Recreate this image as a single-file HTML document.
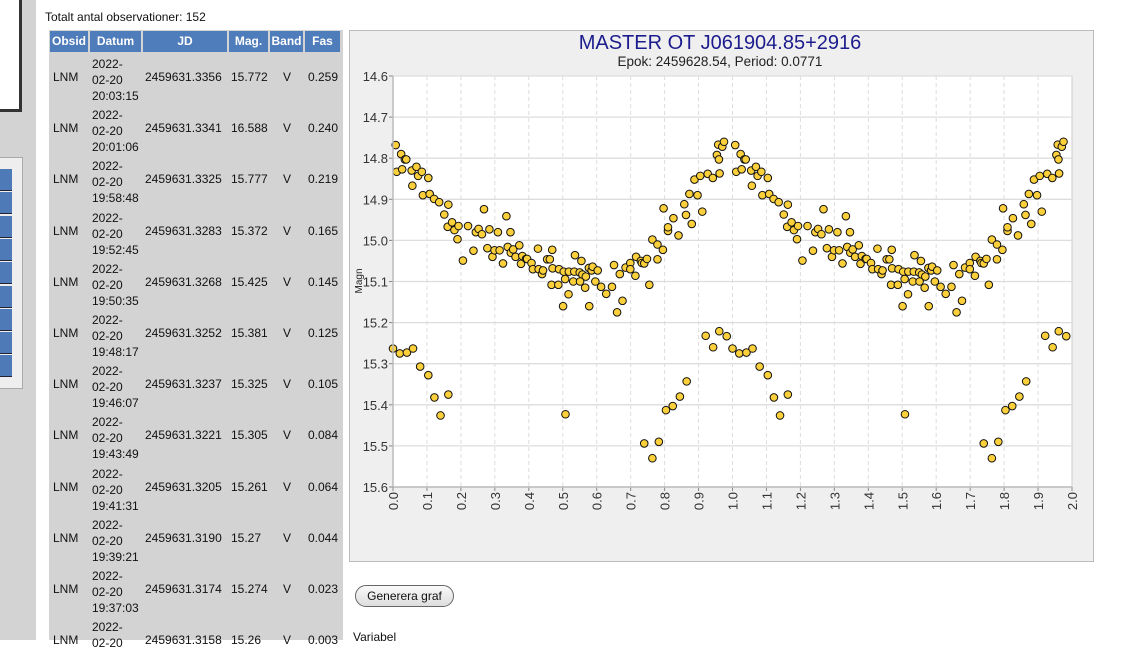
<!DOCTYPE html>
<html><head><meta charset="utf-8">
<style>
body{margin:0;width:1136px;height:640px;overflow:hidden;background:#fff;font-family:"Liberation Sans",sans-serif;position:relative}
.abs{position:absolute}
#tbl{position:absolute;left:49px;top:30px;width:294px;height:610px;background:#d3d3d3}
.th{position:absolute;top:1px;height:21px;background:#4f7cba;color:#fff;font-weight:bold;font-size:12px;line-height:21px;text-align:center}
.row{position:absolute;left:0;width:294px;height:51px;font-size:12px;color:#111}
.row span{position:absolute}
</style></head><body>
<div class="abs" style="left:0;top:0;width:36px;height:640px;background:#d3d3d3"></div>
<div class="abs" style="left:0;top:0;width:19px;height:109px;background:#fff;border-right:3px solid #333;border-bottom:3px solid #333"></div>
<div class="abs" style="left:0;top:157px;width:22px;height:230px;background:#eee;border:1px solid #aaa;border-left:none">
<div id="navbtns"></div></div>
<div class="abs" style="left:45px;top:10px;font-size:12px;color:#111">Totalt antal observationer: 152</div>
<div id="tbl">
<div class="th" style="left:1px;width:38px">Obsid</div>
<div class="th" style="left:41px;width:51px">Datum</div>
<div class="th" style="left:94px;width:84px">JD</div>
<div class="th" style="left:180px;width:39px">Mag.</div>
<div class="th" style="left:221px;width:33px">Band</div>
<div class="th" style="left:256px;width:35px">Fas</div>
<div id="rows"></div>
</div>
<div class="abs" style="left:349px;top:30px;width:743px;height:530px;background:#efefef;border:1px solid #bbb"></div>
<svg class="abs" style="left:0;top:0" width="1136" height="640">
<text x="720" y="49" text-anchor="middle" font-size="20" fill="#1c1c8e" font-family="Liberation Sans">MASTER OT J061904.85+2916</text>
<text x="720" y="66" text-anchor="middle" font-size="13.5" fill="#222" font-family="Liberation Sans">Epok: 2459628.54, Period: 0.0771</text>
<rect x="393" y="76" width="679" height="411" fill="#fff" stroke="#ccc"/>
<g id="grid"></g><g id="pts"></g><g id="axes"></g>
<text transform="translate(362,281) rotate(-90)" text-anchor="middle" font-size="10" fill="#222" font-family="Liberation Sans">Magn</text>
</svg>
<div class="abs" style="left:355px;top:585px;width:97px;height:20px;border:1px solid #666;border-radius:11px;background:linear-gradient(#fafafa,#ddd);font-size:12px;line-height:20px;text-align:center;color:#111">Generera graf</div>
<div class="abs" style="left:353px;top:630px;font-size:12px;color:#111">Variabel</div>
<script>
const rowTimes=["20:03:15","20:01:06","19:58:48","19:52:45","19:50:35","19:48:17","19:46:07","19:43:49","19:41:31","19:39:21","19:37:03",""];
const rowJD=["2459631.3356","2459631.3341","2459631.3325","2459631.3283","2459631.3268","2459631.3252","2459631.3237","2459631.3221","2459631.3205","2459631.3190","2459631.3174","2459631.3158"];
const rowMag=["15.772","16.588","15.777","15.372","15.425","15.381","15.325","15.305","15.261","15.27","15.274","15.26"];
const rowFas=["0.259","0.240","0.219","0.165","0.145","0.125","0.105","0.084","0.064","0.044","0.023","0.003"];
const phase=[0.008,0.011,0.024,0.027,0.035,0.039,0.055,0.057,0.069,0.074,0.085,0.088,0.104,0.108,0.121,0.136,0.151,0.161,0.163,0.174,0.181,0.19,0.193,0.206,0.221,0.237,0.244,0.252,0.262,0.268,0.278,0.284,0.293,0.299,0.314,0.309,0.324,0.334,0.338,0.346,0.347,0.354,0.361,0.372,0.377,0.381,0.392,0.395,0.408,0.412,0.427,0.429,0.439,0.442,0.454,0.462,0.469,0.47,0.489,0.503,0.507,0.518,0.534,0.536,0.55,0.558,0.555,0.568,0.577,0.585,0.588,0.603,0.651,0.668,0.685,0.699,0.699,0.714,0.716,0.73,0.733,0.74,0.748,0.764,0.779,0.779,0.795,0.797,0.81,0.81,0.826,0.841,0.858,0.863,0.873,0.88,0.888,0.897,0.905,0.911,0.927,0.942,0.954,0.958,0.97,0.975,0.96,0.962,
0.0,0.02,0.041,0.059,0.08,0.104,0.122,0.14,0.163,0.467,0.487,0.501,0.508,0.517,0.531,0.551,0.566,0.578,0.596,0.613,0.628,0.645,0.66,0.676,0.755,0.74,0.764,0.783,0.804,0.824,0.845,0.865,0.921,0.943,0.961,0.983];
const mag=[14.768,14.833,14.79,14.827,14.803,14.803,14.83,14.867,14.821,14.843,14.833,14.89,14.848,14.887,14.899,14.907,14.937,14.967,14.913,14.956,14.975,14.997,14.965,15.049,14.965,15.025,14.98,14.972,14.985,14.924,15.019,14.973,15.04,15.024,15.024,14.98,15.056,14.941,15.016,14.98,15.03,15.022,15.04,15.012,15.057,15.038,15.045,15.045,15.055,15.07,15.02,15.07,15.082,15.073,15.046,15.046,15.023,15.068,15.07,15.076,15.094,15.076,15.076,15.036,15.078,15.083,15.05,15.088,15.067,15.073,15.064,15.073,15.06,15.082,15.066,15.055,15.07,15.086,15.04,15.05,15.055,15.056,15.045,14.998,15.046,15.01,15.023,14.922,14.977,14.968,14.946,14.988,14.912,14.938,14.887,14.96,14.852,14.89,14.843,14.93,14.838,14.848,14.792,14.767,14.772,14.76,14.803,14.837,
15.263,15.275,15.273,15.263,15.307,15.328,15.382,15.426,15.375,15.108,15.108,15.16,15.423,15.131,15.1,15.1,15.115,15.16,15.1,15.113,15.13,15.113,15.175,15.147,15.108,15.494,15.53,15.49,15.413,15.403,15.38,15.343,15.232,15.26,15.221,15.233];
const yTicks=[14.6,14.7,14.8,14.9,15.0,15.1,15.2,15.3,15.4,15.5,15.6];
const xTicks=[0,0.1,0.2,0.3,0.4,0.5,0.6,0.7,0.8,0.9,1.0,1.1,1.2,1.3,1.4,1.5,1.6,1.7,1.8,1.9,2.0];
const NS="http://www.w3.org/2000/svg";
const X0=393,X1=1072,Y0=76,Y1=487;
function sx(p){return X0+(X1-X0)*p/2;}
function sy(m){return Y0+(Y1-Y0)*(m-14.6)/1.0;}
function mk(t,a,par){const e=document.createElementNS(NS,t);for(const k in a)e.setAttribute(k,a[k]);par.appendChild(e);return e;}
const grid=document.getElementById('grid'),axes=document.getElementById('axes'),pts=document.getElementById('pts');
yTicks.forEach(v=>{const y=sy(v);
 const l=mk('line',{x1:X0,x2:X1,y1:y,y2:y,stroke:'#ddd','stroke-width':1.3},grid);
 
 
 mk('line',{x1:X0-4,x2:X0,y1:y,y2:y,stroke:'#888'},axes);
 const t=mk('text',{x:X0-5,y:y+5,'text-anchor':'end','font-size':13,fill:'#333','font-family':'Liberation Sans'},axes);
 t.textContent=v.toFixed(1);
 
 });
xTicks.forEach(v=>{const x=sx(v);
 if(v>0&&v<2){const l=mk('line',{x1:x,x2:x,y1:Y0,y2:Y1,stroke:'#ddd','stroke-dasharray':'4,3'},grid);
 
 }
 mk('line',{x1:x,x2:x,y1:Y1,y2:Y1+4,stroke:'#888'},axes);
 const t=mk('text',{transform:`translate(${x+5},${Y1+5}) rotate(-90)`,'text-anchor':'end','font-size':13,fill:'#333','font-family':'Liberation Sans'},axes);
 t.textContent=v.toFixed(1);
 
 });
mk('line',{x1:X0,x2:X0,y1:Y0,y2:Y1,stroke:'#bbb','stroke-width':1.5},axes);
mk('line',{x1:X0,x2:X1,y1:Y1,y2:Y1,stroke:'#bbb','stroke-width':1.5},axes);
[0,1].forEach(off=>{phase.forEach((p,i)=>{
 const c=mk('circle',{cx:sx(p+off),cy:sy(mag[i]),r:3.8,fill:'#fcd03a',stroke:'#111','stroke-width':1},pts);
 
 });});
const rows=document.getElementById('rows');
rowJD.forEach((jd,i)=>{const r=document.createElement('div');r.className='row';r.style.top=(23+i*51.2)+'px';
 
 
 r.innerHTML=`<span style="left:4px;top:17px">LNM</span><span style="left:43px;top:3px;line-height:16px">2022-<br>02-20<br>${rowTimes[i]}</span><span style="left:96px;top:17px">${jd}</span><span style="left:182px;top:17px">${rowMag[i]}</span><span style="left:234px;top:17px">V</span><span style="left:259px;top:17px">${rowFas[i]}</span>`;
 rows.appendChild(r);});
const nb=document.getElementById('navbtns');
for(let i=0;i<9;i++){const b=document.createElement('div');
 
 
 b.style.cssText=`position:absolute;left:0;top:${11+i*23.3}px;width:12px;height:21px;background:#4f7ab8;border-bottom:1px solid #223`;nb.appendChild(b);}
</script>
</body></html>
